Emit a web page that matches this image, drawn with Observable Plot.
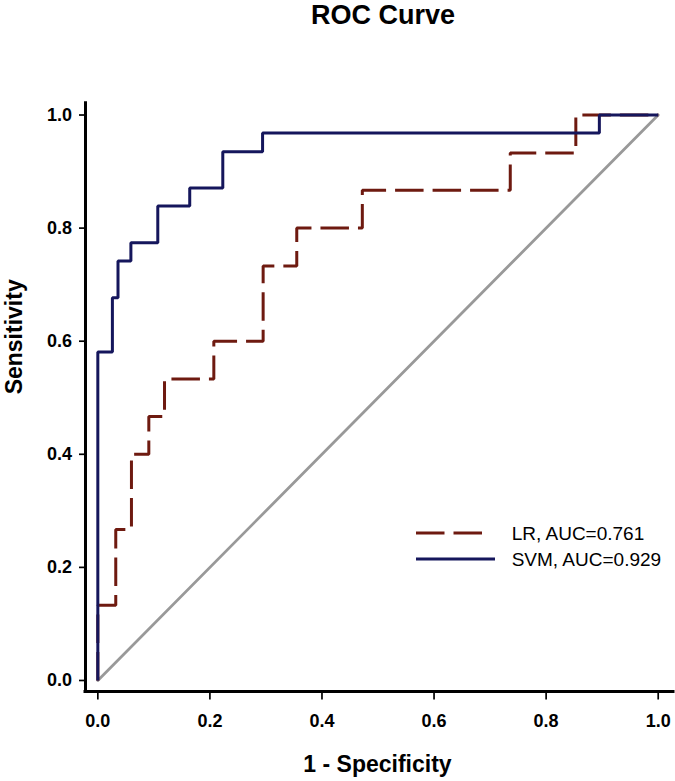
<!DOCTYPE html>
<html>
<head>
<meta charset="utf-8">
<script src="https://cdn.jsdelivr.net/npm/d3@7"></script>
<script src="https://cdn.jsdelivr.net/npm/@observablehq/plot@0.6"></script>
<style>
  body { margin: 0; background: #fff; font-family: "Liberation Sans", Arial, sans-serif; }
  #wrap { position: relative; width: 675px; height: 781px; overflow: hidden; }
  #title { height: 40px; box-sizing: border-box; padding-top: 2px; padding-left: 91px;
           text-align: center; font-weight: bold; font-size: 27px; line-height: 27px; color: #000; }
  .legtext { position: absolute; font-size: 19px; line-height: 19px; color: #000; white-space: nowrap; }
  .legsw { position: absolute; overflow: visible; }
</style>
</head>
<body>
<div id="wrap">
  <div id="title">ROC Curve</div>
  <div id="chart"></div>
</div>
<script>
// ---- data ----
const titleText = "ROC Curve";
const xLabel = "1 - Specificity";
const yLabel = "Sensitivity";
const xTicks = [0.0, 0.2, 0.4, 0.6, 0.8, 1.0];
const yTicks = [0.0, 0.2, 0.4, 0.6, 0.8, 1.0];

const seriesNames = ["LR", "SVM"];
const aucValues = [0.761, 0.929];

// ROC points (false positive rate, true positive rate)
const fprLR = [0, 0, 0.032, 0.060, 0.091, 0.119, 0.207, 0.295, 0.355, 0.472, 0.736, 0.853, 1.0];
const tprLR = [0, 0.133, 0.267, 0.400, 0.467, 0.533, 0.600, 0.733, 0.800, 0.867, 0.933, 1.0, 1.0];

const fprSVM = [0, 0, 0.026, 0.036, 0.059, 0.107, 0.164, 0.223, 0.294, 0.895, 1.0];
const tprSVM = [0, 0.581, 0.677, 0.742, 0.774, 0.839, 0.871, 0.935, 0.968, 1.0, 1.0];

const diagX = [0, 1];
const diagY = [0, 1];

// ---- styles ----
const lrColor = "#6e1a10";
const svmColor = "#15165c";
const diagColor = "#999999";
const lrDash = "28.5,9";
const font = '"Liberation Sans", Arial, sans-serif';

const xDomain = [-0.022, 1.0273];
const yDomain = [-0.0195, 1.0209];

const fmt = d3.format(".1f");

const chart = Plot.plot({
  width: 675,
  height: 741,
  marginTop: 62.7,
  marginBottom: 90,
  marginLeft: 85,
  marginRight: 2,
  x: { domain: xDomain },
  y: { domain: yDomain },
  style: { fontFamily: font, color: "#000", background: "#fff", overflow: "visible" },
  marks: [
    Plot.line({ length: diagX.length }, { x: diagX, y: diagY, stroke: diagColor, strokeWidth: 2.8 }),
    Plot.line({ length: fprLR.length }, {
      x: fprLR, y: tprLR, curve: "step-after", stroke: lrColor, strokeWidth: 3,
      strokeDasharray: lrDash, strokeLinecap: "butt", strokeLinejoin: "miter"
    }),
    Plot.line({ length: fprSVM.length }, {
      x: fprSVM, y: tprSVM, curve: "step-after", stroke: svmColor, strokeWidth: 3,
      strokeLinecap: "butt", strokeLinejoin: "miter"
    }),
    Plot.ruleX([xDomain[0]], { stroke: "#000", strokeWidth: 3, strokeLinecap: "square" }),
    Plot.ruleY([yDomain[0]], { stroke: "#000", strokeWidth: 3, strokeLinecap: "square" }),
    Plot.axisX({
      ticks: xTicks, tickFormat: fmt, tickSize: 8.5, tickPadding: 14, strokeWidth: 1.7,
      fontSize: 18, fontWeight: "bold", label: null
    }),
    Plot.axisY({
      ticks: yTicks, tickFormat: fmt, tickSize: 6, tickPadding: 7.5, strokeWidth: 1.7,
      fontSize: 18, fontWeight: "bold", label: null
    }),
    Plot.text([xLabel], {
      text: d => d, frameAnchor: "bottom", lineAnchor: "bottom", dy: 80.7, dx: -2,
      fontSize: 23, fontWeight: "bold", fill: "#000"
    }),
    Plot.text([yLabel], {
      text: d => d, frameAnchor: "left", lineAnchor: "bottom", rotate: -90, dx: -63.5, dy: -3,
      fontSize: 23, fontWeight: "bold", fill: "#000"
    })
  ]
});

document.getElementById("title").textContent = titleText;
document.getElementById("chart").appendChild(chart);

// ---- legend (HTML overlay) ----
const wrap = document.getElementById("wrap");
const legColors = [lrColor, svmColor];
const legDash = [lrDash, null];
const legLen = [66, 79];
const legLineY = [532.7, 559.3];
const legBase = [540, 566];
const ns = "http://www.w3.org/2000/svg";
seriesNames.forEach((name, i) => {
  const sw = document.createElementNS(ns, "svg");
  sw.setAttribute("class", "legsw");
  sw.setAttribute("width", 79);
  sw.setAttribute("height", 4);
  sw.style.left = "416px";
  sw.style.top = (legLineY[i] - 2) + "px";
  const ln = document.createElementNS(ns, "line");
  ln.setAttribute("x1", 0); ln.setAttribute("x2", legLen[i]);
  ln.setAttribute("y1", 2); ln.setAttribute("y2", 2);
  ln.setAttribute("stroke", legColors[i]);
  ln.setAttribute("stroke-width", 3);
  if (legDash[i]) ln.setAttribute("stroke-dasharray", legDash[i]);
  sw.appendChild(ln);
  wrap.appendChild(sw);

  const t = document.createElement("div");
  t.className = "legtext";
  t.style.left = "511.7px";
  t.style.top = (legBase[i] - 16.1) + "px";
  t.textContent = `${name}, AUC=${aucValues[i].toFixed(3)}`;
  wrap.appendChild(t);
});
</script>
</body>
</html>
